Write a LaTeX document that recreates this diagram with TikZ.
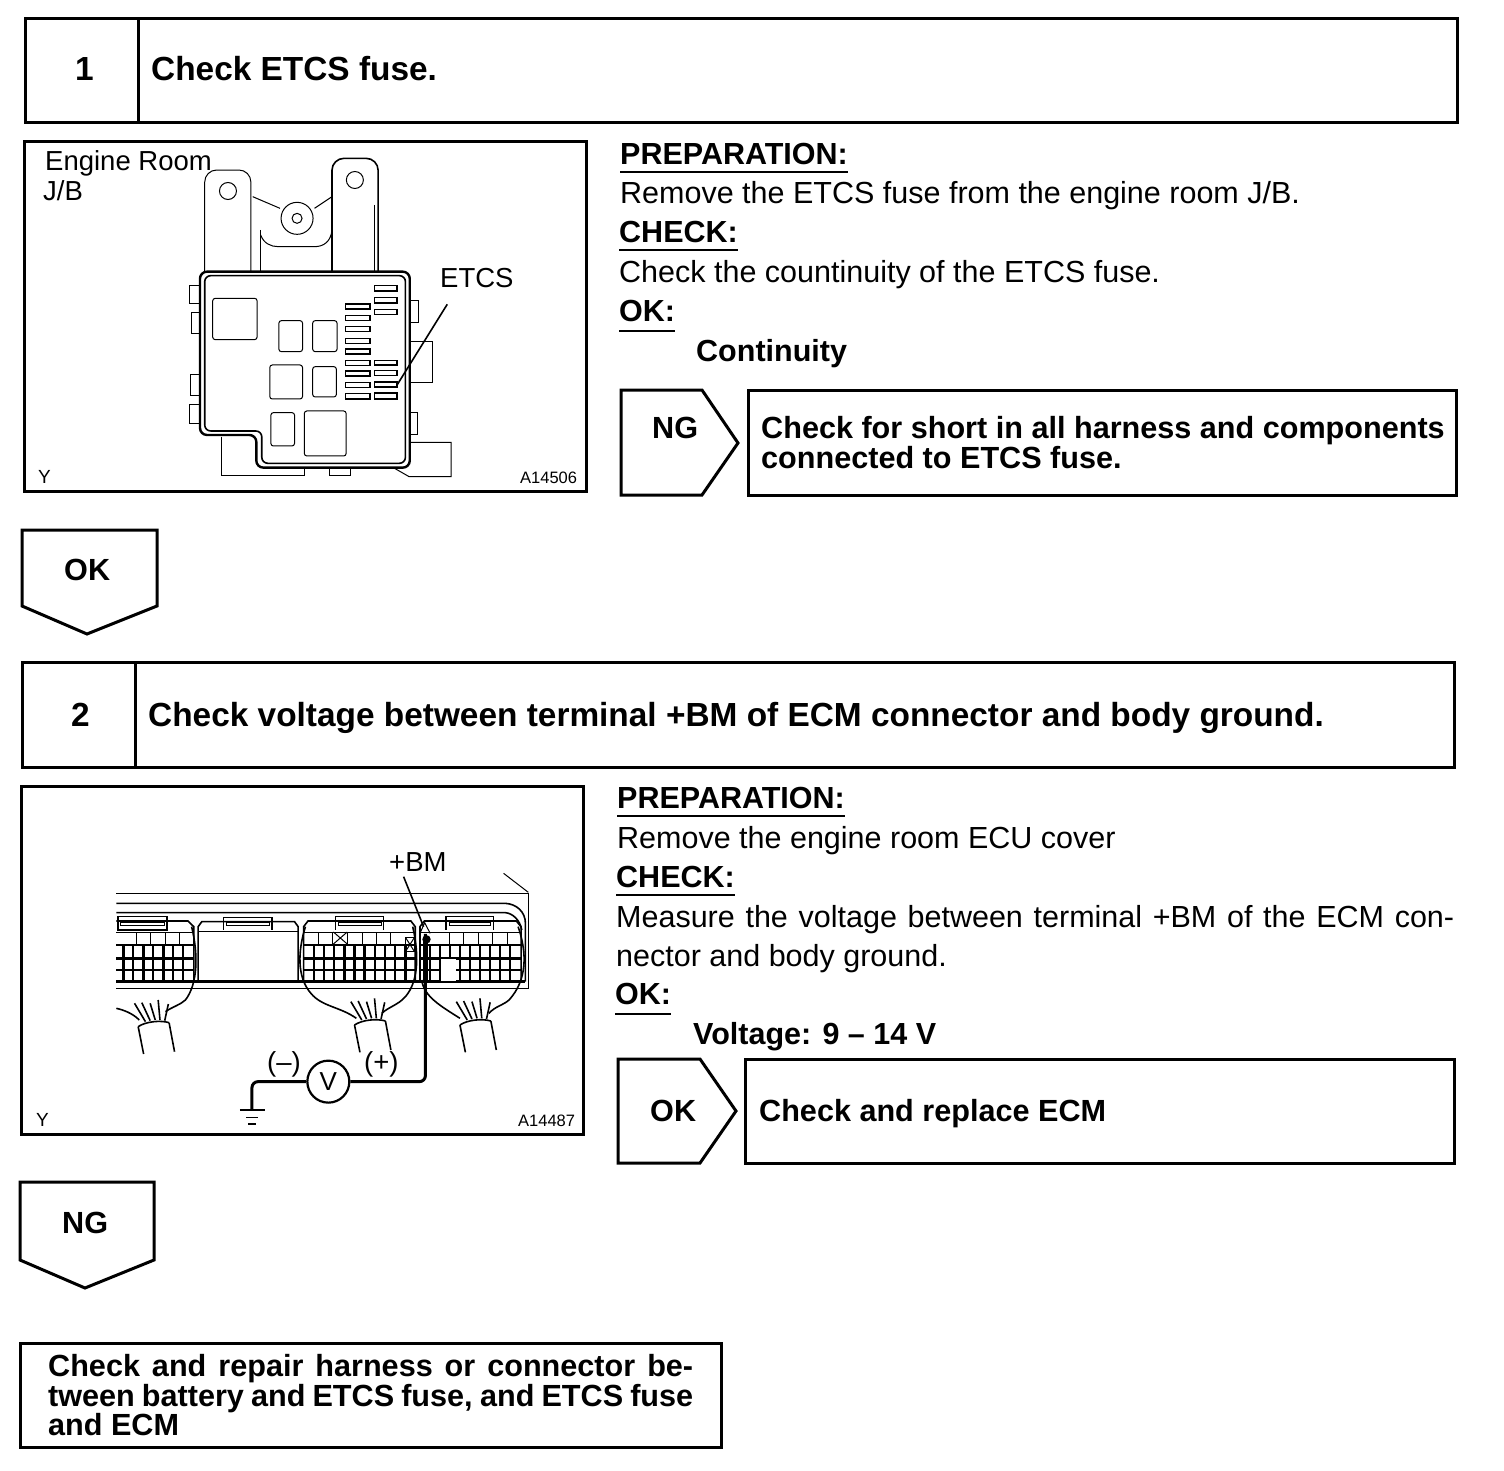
\documentclass[tikz,border=0pt]{standalone}
\usepackage{fontspec}
\setmainfont{Liberation Sans}
\begin{document}
\begin{tikzpicture}[x=1pt,y=-1pt,
  box/.style={draw,line width=3pt,line join=miter},
  panel/.style={draw,line width=3pt},
  body/.style={anchor=base west,inner sep=0pt,font=\fontsize{30.5}{32}\selectfont},
  bold/.style={anchor=base west,inner sep=0pt,font=\fontsize{30.6}{32}\selectfont\bfseries},
  head/.style={anchor=base west,inner sep=0pt,font=\fontsize{33.4}{35}\selectfont\bfseries},
  lab/.style={anchor=base west,inner sep=0pt,font=\fontsize{27.5}{30}\selectfont},
  tiny/.style={anchor=base west,inner sep=0pt,font=\fontsize{19}{20}\selectfont},
  code/.style={anchor=base west,inner sep=0pt,font=\fontsize{16.5}{18}\selectfont},
  ul/.style={line width=1.6pt},
  thin1/.style={line width=1pt},
  med/.style={line width=1.6pt},
  hv/.style={line width=2.4pt}]
\useasboundingbox (0,0) rectangle (1504,1470);
\fill[white] (0,0) rectangle (1504,1470);
% --- Step 1 ---
\draw[box] (25,18) rectangle (1457,122);
\draw[box] (138,18) -- (138,122);
\node[head] (n1) at (75,80) {1};
\node[head] (t1) at (151,80) {Check ETCS fuse.};
\draw[panel] (24,141) rectangle (586,491);
\node[body] (h1a) at (620,164) {\bfseries PREPARATION:};
\draw[ul] ([yshift=-8pt]h1a.base west) -- ([yshift=-8pt]h1a.base east);
\node[body] (b1a) at (620,203) {Remove the ETCS fuse from the engine room J/B.};
\node[body] (h1b) at (619,242) {\bfseries CHECK:};
\draw[ul] ([yshift=-8pt]h1b.base west) -- ([yshift=-8pt]h1b.base east);
\node[body] (b1b) at (619,282) {Check the countinuity of the ETCS fuse.};
\node[body] (h1c) at (619,321) {\bfseries OK:};
\draw[ul] ([yshift=-10pt]h1c.base west) -- ([yshift=-10pt]h1c.base east);
\node[body] (b1c) at (696,361) {\bfseries Continuity};
\draw[box] (621,390) -- (702,390) -- (738,443) -- (702,495) -- (621,495) -- cycle;
\node[bold] (ng1) at (652,438) {NG};
\draw[box] (748,390) rectangle (1456,495);
\node[bold] (r1a) at (761,438) {Check for short in all harness and components};
\node[bold] (r1b) at (761,468) {connected to ETCS fuse.};
\draw[box] (22,530) -- (157,530) -- (157,606) -- (87,634) -- (22,606) -- cycle;
\node[bold] (ok1) at (64,580) {OK};
% --- picture 1 ---
\begin{scope}[shift={(20,135)},x=0.3636pt,y=-0.3333pt]
  \draw[thin1,rounded corners=12pt] (508,412) -- (508,105) -- (635,105) -- (635,412);
  \draw[med,rounded corners=12pt] (858,412) -- (858,70) -- (985,70) -- (985,412);
  \draw[thin1] (975,210) -- (975,412);
  \draw[thin1] (572,168) circle[radius=8.5pt];
  \draw[thin1] (921,135) circle[radius=8.5pt];
  \draw[thin1] (640,185) -- (715,220);
  \draw[thin1] (810,220) -- (858,185);
  \draw[thin1] (762,250) circle[radius=16pt];
  \draw[thin1] (762,250) circle[radius=5pt];
  \draw[thin1] (662,285) -- (662,412);
  \draw[thin1] (662,300) .. controls (670,325) and (690,335) .. (710,335) -- (810,335) .. controls (835,335) and (855,320) .. (858,285);
  \draw[hv,rounded corners=7pt] (495,410) -- (1072,410) -- (1072,998) -- (650,998) -- (650,900) -- (495,900) -- cycle;
  \draw[med,rounded corners=6pt] (508,422) -- (1060,422) -- (1060,985) -- (665,985) -- (665,888) -- (508,888) -- cycle;
  \draw[thin1] (495,452) -- (467,452) -- (467,505) -- (495,505);
  \draw[thin1] (495,532) -- (472,532) -- (472,597) -- (495,597);
  \draw[thin1] (495,720) -- (470,720) -- (470,783) -- (495,783);
  \draw[thin1] (495,810) -- (466,810) -- (466,865) -- (495,865);
  \draw[thin1] (1072,497) -- (1097,497) -- (1097,563) -- (1072,563);
  \draw[thin1] (1072,620) -- (1135,620) -- (1135,742) -- (1072,742);
  \draw[thin1] (1072,833) -- (1092,833) -- (1092,900) -- (1072,900);
  \draw[thin1] (1072,922) -- (1186,922) -- (1186,1025) -- (1070,1025) -- (1030,1000);
  \draw[thin1] (555,905) -- (555,1022) -- (783,1022) -- (783,1000);
  \draw[thin1] (850,1000) -- (850,1022) -- (910,1022) -- (910,1000);
  \foreach \a/\b/\c/\d in {530/490/652/614,712/557/777/650,805/557/872/650,687/690/777/792,805/695/870/786,690/833/755/933,782/828/897/963}
    \draw[thin1,rounded corners=2.5pt] (\a,\b) rectangle (\c,\d);
  \foreach \b/\d in {507/522,541/556,575/590,610/625,642/657,677/692,708/723,742/757,775/792}
    \draw[med] (895,\b) rectangle (962,\d);
  \foreach \b/\d in {452/468,488/504,523/539,676/690,707/722,741/756,774/792}
    \draw[med] (975,\b) rectangle (1037,\d);
  \draw[med] (1175,508) -- (1037,750);
\end{scope}
\node[lab] (er) at (45,170) {Engine Room};
\node[lab] (jb) at (43,200) {J/B};
\node[lab] (etcs) at (440,287) {ETCS};
\node[tiny] (y1) at (38,483) {Y};
\node[code] (c1) at (520,483) {A14506};
% --- Step 2 ---
\draw[box] (22,662) rectangle (1454,767);
\draw[box] (135,662) -- (135,767);
\node[head] (n2) at (71,726) {2};
\node[head] (t2) at (148,726) {Check voltage between terminal +BM of ECM connector and body ground.};
\draw[panel] (21,786) rectangle (583,1134);
\node[body] (h2a) at (617,808) {\bfseries PREPARATION:};
\draw[ul] ([yshift=-8pt]h2a.base west) -- ([yshift=-8pt]h2a.base east);
\node[body] (b2a) at (617,848) {Remove the engine room ECU cover};
\node[body] (h2b) at (616,887) {\bfseries CHECK:};
\draw[ul] ([yshift=-8pt]h2b.base west) -- ([yshift=-8pt]h2b.base east);
\node[body] (b2b) at (616,927) {\makebox[838pt][s]{Measure the voltage between terminal +BM of the ECM con-}};
\node[body] (b2c) at (616,966) {nector and body ground.};
\node[body] (h2c) at (615,1004) {\bfseries OK:};
\draw[ul] ([yshift=-10pt]h2c.base west) -- ([yshift=-10pt]h2c.base east);
\node[body] (b2d) at (693,1044) {\bfseries Voltage: 9 -- 14 V};
\draw[box] (618,1059) -- (700,1059) -- (736,1111) -- (700,1163) -- (618,1163) -- cycle;
\node[bold] (ok2) at (650,1121) {OK};
\draw[box] (745,1059) rectangle (1454,1163);
\node[bold] (r2) at (759,1121) {Check and replace ECM};
\draw[box] (20,1182) -- (154,1182) -- (154,1260) -- (85,1288) -- (20,1260) -- cycle;
\node[bold] (ng2) at (62,1233) {NG};
\draw[box] (20,1343) rectangle (721,1447);
\node[bold] (f1) at (48,1376) {\makebox[645pt][s]{Check and repair harness or connector be-}};
\node[bold] (f2) at (48,1406) {\makebox[645pt][s]{tween battery and ETCS fuse, and ETCS fuse}};
\node[bold] (f3) at (48,1435) {and ECM};
% --- picture 2 ---
\begin{scope}[shift={(20,780)},x=0.3636pt,y=-0.3333pt]
  \draw[med] (265,340) -- (1398,340) -- (1398,625) -- (265,625);
  \draw[thin1] (1330,280) -- (1398,337);
  \draw[med] (265,370) -- (1335,370) .. controls (1365,372) and (1390,395) .. (1390,430) -- (1390,605);
  \draw[med] (265,398) -- (1335,398) .. controls (1355,400) and (1375,420) .. (1380,450);
  \draw[hv] (265,605) -- (1390,605);
  % left connector
  \draw[med] (265,423) -- (462,423) -- (478,440) -- (478,605);
  \draw[med] (270,410) -- (405,410) -- (405,450) -- (270,450) -- cycle;
  \draw[thin1] (277,427) -- (398,427) -- (398,438) -- (277,438) -- cycle;
  \draw[thin1] (265,458) -- (475,458);
  \foreach \y in {495,535,570} \draw[hv] (265,\y) -- (475,\y);
  \foreach \x in {285,310,340,365,395,420,448} \draw[hv] (\x,495) -- (\x,605);
  \foreach \x in {320,360,400,440} \draw[thin1] (\x,458) -- (\x,495);
  % blank connector
  \draw[med] (490,605) -- (490,440) -- (500,425) -- (755,425) -- (765,440) -- (765,605);
  \draw[thin1] (490,455) -- (765,455);
  \draw[med] (560,450) -- (560,412) -- (693,412) -- (693,450);
  \draw[thin1] (568,427) -- (686,427) -- (686,438) -- (568,438) -- cycle;
  % third connector
  \draw[med] (780,605) -- (780,440) -- (792,423) -- (1075,423) -- (1087,440) -- (1087,605);
  \draw[med] (868,450) -- (868,410) -- (1000,410) -- (1000,450);
  \draw[thin1] (876,427) -- (993,427) -- (993,438) -- (876,438) -- cycle;
  \draw[thin1] (780,458) -- (1087,458);
  \foreach \y in {495,535,570} \draw[hv] (780,\y) -- (1087,\y);
  \foreach \x in {808,836,864,892,920,948,976,1004,1032,1060} \draw[hv] (\x,495) -- (\x,605);
  \foreach \x in {820,860,900,942,980,1020} \draw[thin1] (\x,458) -- (\x,495);
  \draw[thin1] (862,456) -- (900,492) (900,456) -- (862,492);
  \draw[thin1] (1060,472) rectangle (1085,515);
  \draw[thin1] (1060,472) -- (1085,515) (1085,472) -- (1060,515);
  % fourth connector
  \draw[med] (1100,605) -- (1100,440) -- (1112,423) -- (1365,423) -- (1378,440) -- (1378,605);
  \draw[med] (1172,450) -- (1172,410) -- (1302,410) -- (1302,450);
  \draw[thin1] (1180,427) -- (1295,427) -- (1295,438) -- (1180,438) -- cycle;
  \draw[thin1] (1100,458) -- (1378,458);
  \foreach \y in {495,535,570} \draw[hv] (1100,\y) -- (1378,\y);
  \foreach \x in {1128,1155,1182,1210,1238,1265,1292,1320,1348} \draw[hv] (\x,495) -- (\x,605);
  \foreach \x in {1180,1220,1260,1300,1340} \draw[thin1] (\x,458) -- (\x,495);
  \fill[white] (1158,538) rectangle (1198,603);
  % harness loops
  \draw[med] (472,440) .. controls (490,520) and (490,610) .. (455,660) .. controls (440,675) and (420,680) .. (400,695);
  \draw[med] (265,685) .. controls (285,690) and (310,700) .. (328,720);
  \draw[med] (785,440) .. controls (765,510) and (760,590) .. (800,640) .. controls (830,680) and (880,680) .. (925,715);
  \draw[med] (1080,440) .. controls (1095,510) and (1100,600) .. (1060,650) .. controls (1040,675) and (1015,680) .. (995,700);
  \draw[med] (1105,600) .. controls (1110,650) and (1160,680) .. (1210,715);
  \draw[med] (1370,440) .. controls (1395,520) and (1395,600) .. (1345,660) .. controls (1330,675) and (1305,680) .. (1290,700);
  % wire bundles
  \foreach \dx/\dy/\ex in {0/0/0,595/-5/15,885/-5/0} {
    \begin{scope}[shift={(\dx,\dy)}]
      \draw[med] (325,740) .. controls (345,725) and (385,720) .. (410,728);
      \draw[med] (325,740) -- (340,822);
      \draw[med] (410,728) -- (425,815);
      \foreach \p/\q/\r/\s in {345/725/315/670,358/722/335/668,372/720/358/670,385/720/380/660,398/722/408/672}
        \draw[med] (\p,\q) -- (\r,\s);
    \end{scope}
  }
  % leader and probe
  \draw[med] (1055,290) -- (1110,440);
  \draw[thin1] (1100,460) -- (1113,428) -- (1128,460);
  \node[draw,circle,line width=2.2pt,minimum size=42pt,inner sep=0pt,font=\fontsize{26}{28}\selectfont] (vm) at (848,905) {V};
  \coordinate (pt) at (1115,462);
  \coordinate (gn) at (638,990);
  \draw[line width=3pt,rounded corners=6pt] (vm.east) -- (1115,905) -- (pt);
  \draw[line width=5.5pt] (1115,470) -- (1115,605);
  \fill (1118,478) circle[radius=4.2pt];
  \draw[line width=3pt,rounded corners=6pt] (vm.west) -- (638,905) -- (gn);
  \draw[med] (605,990) -- (675,990);
  \draw[med] (622,1012) -- (655,1012);
  \draw[med] (628,1032) -- (650,1032);
\end{scope}
\node[lab] (bm) at (389,871) {+BM};
\node[lab] (neg) at (267,1071) {(--)};
\node[lab] (pos) at (364,1071) {(+)};
\node[tiny] (y2) at (36,1126) {Y};
\node[code] (c2) at (518,1126) {A14487};
\end{tikzpicture}
\end{document}
